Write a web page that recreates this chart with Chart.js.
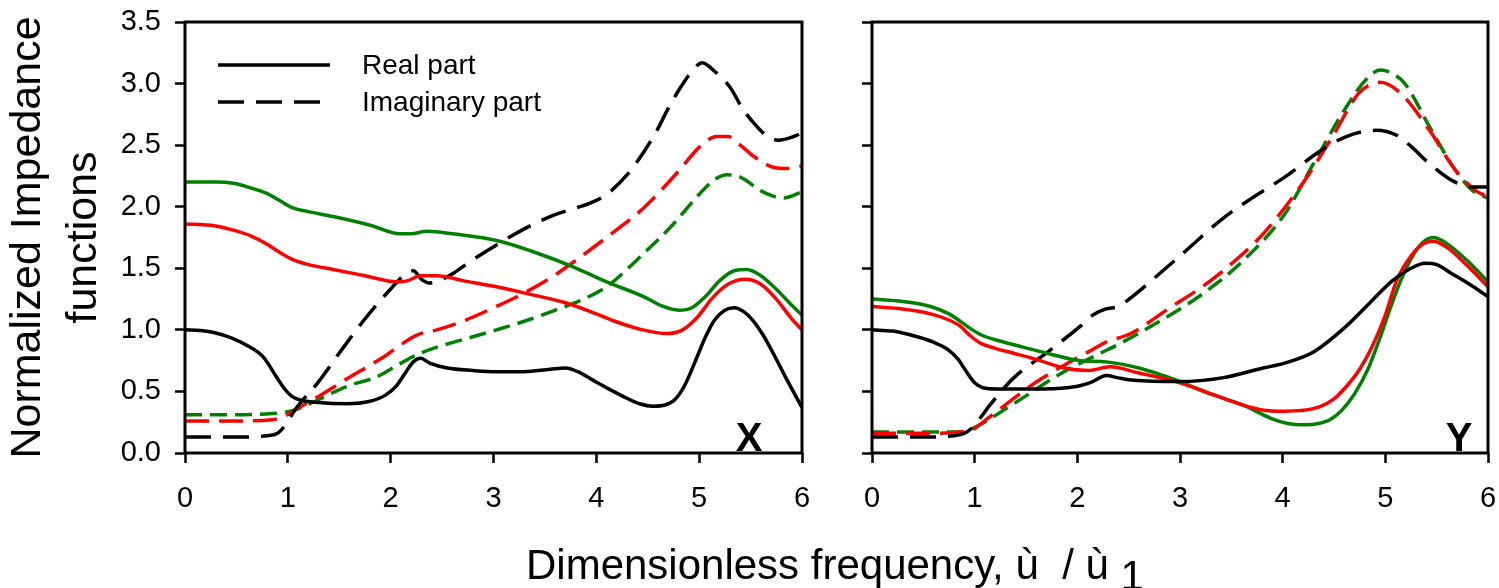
<!DOCTYPE html>
<html><head><meta charset="utf-8">
<script src="https://cdn.jsdelivr.net/npm/chart.js@4.4.1/dist/chart.umd.min.js"></script>
<style>
html,body{margin:0;padding:0;background:#fff;}
body{width:1499px;height:588px;position:relative;overflow:hidden;font-family:"Liberation Sans",Arial,sans-serif;}
#cx{position:absolute;left:0;top:0;}
#cy{position:absolute;left:830px;top:0;}
#xtitle{position:absolute;left:526px;top:544px;font-size:42px;line-height:42px;white-space:pre;color:#000;}
#xtitle span{position:relative;top:11px;}
</style></head><body>
<canvas id="cx" width="830" height="588" style="width:830px;height:588px"></canvas>
<canvas id="cy" width="669" height="588" style="width:669px;height:588px"></canvas>
<div id="xtitle">Dimensionless frequency, ù  / ù <span>1</span></div>
<script>
const FREQ_TICKS = [0, 1, 2, 3, 4, 5, 6];
const IMP_TICKS = [0, 0.5, 1, 1.5, 2, 2.5, 3, 3.5];
const SERIES_NAMES = ['Real part', 'Imaginary part'];
const PANEL_LABELS = ['X', 'Y'];
const Y_TITLE = ['Normalized Impedance', 'functions'];

// Panel X : [frequency, value]
const xRealBlack = [[0,1.00],[0.15,0.995],[0.3,0.975],[0.45,0.935],[0.6,0.875],[0.76,0.78],[0.88,0.63],[0.96,0.53],[1.04,0.46],[1.12,0.43],[1.3,0.41],[1.57,0.40],[1.8,0.42],[1.95,0.47],[2.06,0.55],[2.15,0.66],[2.22,0.74],[2.29,0.77],[2.38,0.73],[2.55,0.69],[2.8,0.67],[3.03,0.66],[3.3,0.66],[3.55,0.68],[3.7,0.69],[3.82,0.66],[3.95,0.60],[4.1,0.53],[4.26,0.46],[4.42,0.40],[4.55,0.38],[4.67,0.39],[4.76,0.43],[4.86,0.55],[4.96,0.74],[5.06,0.94],[5.15,1.08],[5.25,1.16],[5.34,1.18],[5.43,1.15],[5.52,1.08],[5.62,0.96],[5.72,0.81],[5.85,0.60],[6.0,0.37]];
const xRealRed = [[0,1.86],[0.25,1.85],[0.47,1.81],[0.65,1.76],[0.79,1.70],[0.92,1.63],[1.05,1.57],[1.2,1.53],[1.44,1.49],[1.75,1.44],[2.06,1.39],[2.17,1.40],[2.29,1.44],[2.45,1.44],[2.7,1.40],[3.03,1.35],[3.4,1.28],[3.7,1.22],[4.0,1.13],[4.18,1.07],[4.45,1.00],[4.68,0.97],[4.84,1.00],[4.98,1.10],[5.13,1.26],[5.28,1.37],[5.45,1.41],[5.6,1.37],[5.75,1.25],[5.9,1.09],[6.0,1.00]];
const xRealGreen = [[0,2.20],[0.3,2.20],[0.47,2.19],[0.65,2.15],[0.79,2.11],[0.92,2.05],[1.05,1.99],[1.2,1.96],[1.44,1.92],[1.8,1.85],[2.09,1.78],[2.2,1.78],[2.35,1.80],[2.6,1.78],[3.06,1.72],[3.4,1.63],[3.78,1.51],[4.1,1.39],[4.46,1.27],[4.65,1.19],[4.8,1.16],[4.93,1.18],[5.06,1.27],[5.2,1.40],[5.34,1.48],[5.46,1.49],[5.6,1.44],[5.75,1.33],[5.9,1.20],[6.0,1.12]];
const xImagBlack = [[0,0.13],[0.5,0.13],[0.8,0.14],[0.9,0.16],[0.97,0.22],[1.07,0.35],[1.3,0.58],[1.49,0.80],[1.76,1.10],[2.02,1.35],[2.14,1.45],[2.22,1.48],[2.3,1.41],[2.38,1.38],[2.5,1.41],[2.61,1.46],[2.8,1.57],[3.03,1.69],[3.3,1.82],[3.58,1.93],[3.8,1.99],[3.94,2.03],[4.1,2.10],[4.3,2.26],[4.45,2.43],[4.59,2.62],[4.7,2.80],[4.82,2.97],[4.93,3.10],[5.03,3.17],[5.15,3.10],[5.3,2.97],[5.42,2.80],[5.53,2.68],[5.65,2.58],[5.77,2.54],[5.92,2.57],[6.0,2.60]];
const xImagRed = [[0,0.26],[0.5,0.26],[0.85,0.27],[0.97,0.30],[1.07,0.35],[1.3,0.46],[1.57,0.60],[1.95,0.79],[2.1,0.88],[2.26,0.96],[2.45,1.00],[2.7,1.07],[3.03,1.19],[3.3,1.30],[3.57,1.43],[3.81,1.57],[4.13,1.77],[4.46,1.99],[4.78,2.27],[5.01,2.49],[5.17,2.57],[5.28,2.57],[5.4,2.50],[5.53,2.41],[5.72,2.32],[5.85,2.31],[6.0,2.33]];
const xImagGreen = [[0,0.31],[0.5,0.31],[0.85,0.32],[0.97,0.33],[1.07,0.35],[1.29,0.43],[1.57,0.54],[1.87,0.62],[2.1,0.73],[2.26,0.80],[2.45,0.86],[2.7,0.92],[3.03,1.00],[3.3,1.07],[3.6,1.16],[3.85,1.24],[4.1,1.35],[4.46,1.62],[4.75,1.86],[5.01,2.11],[5.15,2.22],[5.27,2.26],[5.4,2.24],[5.62,2.12],[5.82,2.07],[6.0,2.12]];

// Panel Y : [frequency, value]
const yRealBlack = [[0,1.00],[0.2,0.99],[0.37,0.96],[0.6,0.90],[0.74,0.84],[0.84,0.76],[0.92,0.66],[1.0,0.57],[1.08,0.53],[1.22,0.52],[1.67,0.52],[1.99,0.54],[2.15,0.58],[2.28,0.63],[2.4,0.61],[2.55,0.59],[3.0,0.58],[3.41,0.61],[3.81,0.69],[4.02,0.73],[4.3,0.82],[4.62,1.03],[4.85,1.22],[5.07,1.40],[5.25,1.50],[5.39,1.54],[5.5,1.53],[5.64,1.46],[5.82,1.37],[6.0,1.27]];
const yRealRed = [[0,1.19],[0.3,1.17],[0.57,1.13],[0.75,1.08],[0.86,1.03],[0.96,0.95],[1.06,0.89],[1.2,0.85],[1.38,0.81],[1.6,0.76],[1.87,0.69],[2.11,0.67],[2.32,0.70],[2.6,0.65],[3.0,0.57],[3.3,0.48],[3.61,0.39],[3.8,0.35],[4.02,0.34],[4.3,0.36],[4.5,0.44],[4.62,0.54],[4.75,0.68],[4.87,0.86],[5.0,1.12],[5.11,1.40],[5.25,1.60],[5.37,1.70],[5.47,1.72],[5.6,1.67],[5.8,1.52],[6.0,1.35]];
const yRealGreen = [[0,1.25],[0.3,1.23],[0.57,1.19],[0.75,1.13],[0.86,1.07],[0.96,1.01],[1.06,0.96],[1.2,0.92],[1.47,0.86],[1.75,0.80],[2.03,0.75],[2.28,0.74],[2.6,0.69],[3.0,0.58],[3.3,0.48],[3.61,0.39],[3.89,0.28],[4.05,0.24],[4.22,0.23],[4.35,0.24],[4.46,0.27],[4.58,0.35],[4.7,0.48],[4.83,0.68],[4.95,0.94],[5.05,1.18],[5.15,1.40],[5.28,1.62],[5.38,1.72],[5.47,1.75],[5.6,1.70],[5.8,1.56],[6.0,1.39]];
const yImagBlack = [[0,0.13],[0.5,0.13],[0.8,0.14],[0.9,0.16],[0.98,0.21],[1.06,0.29],[1.14,0.38],[1.38,0.61],[1.71,0.82],[2.03,1.03],[2.15,1.12],[2.28,1.17],[2.4,1.19],[2.52,1.26],[2.75,1.42],[3.0,1.60],[3.41,1.90],[3.7,2.07],[4.02,2.24],[4.38,2.46],[4.62,2.57],[4.91,2.62],[5.11,2.58],[5.25,2.49],[5.43,2.35],[5.68,2.20],[5.88,2.16],[6.0,2.16]];
const yImagRed = [[0,0.16],[0.5,0.16],[0.85,0.17],[0.98,0.19],[1.14,0.29],[1.59,0.57],[1.95,0.75],[2.15,0.84],[2.28,0.90],[2.52,0.97],[2.92,1.19],[3.2,1.34],[3.45,1.50],[3.81,1.78],[4.22,2.22],[4.5,2.59],[4.74,2.92],[4.95,3.01],[5.15,2.92],[5.43,2.62],[5.68,2.30],[5.88,2.13],[6.0,2.08]];
const yImagGreen = [[0,0.17],[0.5,0.17],[0.85,0.17],[0.98,0.20],[1.38,0.40],[1.87,0.66],[2.2,0.80],[2.44,0.90],[3.0,1.17],[3.25,1.31],[3.6,1.55],[4.02,1.94],[4.3,2.35],[4.62,2.81],[4.82,3.04],[4.95,3.11],[5.05,3.09],[5.19,3.00],[5.43,2.65],[5.68,2.30],[5.85,2.13],[6.0,2.07]];

const FONT = '"Liberation Sans", Arial, sans-serif';
const STYLE = {
  black: {color: '#000000', dash: [26, 12]},
  red:   {color: '#ff0000', dash: [24, 10]},
  green: {color: '#008000', dash: [17, 8]}
};

function ds(points, style, dashed) {
  return {
    data: points.map(p => ({x: p[0], y: p[1]})),
    borderColor: style.color,
    borderWidth: 3.5,
    borderDash: dashed ? style.dash : [],
    pointRadius: 0,
    fill: false,
    cubicInterpolationMode: 'monotone',
    tension: 0
  };
}

const framePlugin = {
  id: 'frame',
  afterDatasetsDraw(chart, args, opts) {
    const {ctx, chartArea: a} = chart;
    ctx.save();
    ctx.strokeStyle = '#000';
    ctx.lineWidth = 3;
    ctx.setLineDash([]);
    ctx.strokeRect(a.left, a.top, a.right - a.left, a.bottom - a.top);
    ctx.fillStyle = '#000';
    ctx.font = 'bold 40px ' + FONT;
    ctx.textAlign = 'center';
    ctx.textBaseline = 'alphabetic';
    ctx.fillText(opts.label, a.right - opts.labelOffset, a.bottom - 2);
    if (opts.legend) {
      const lx = a.left + 33, ty1 = a.top + 43, ty2 = a.top + 80;
      ctx.lineWidth = 3.5;
      ctx.beginPath(); ctx.moveTo(lx, ty1); ctx.lineTo(lx + 112, ty1); ctx.stroke();
      ctx.setLineDash(STYLE.black.dash);
      ctx.beginPath(); ctx.moveTo(lx, ty2); ctx.lineTo(lx + 104, ty2); ctx.stroke();
      ctx.setLineDash([]);
      ctx.font = '28px ' + FONT;
      ctx.textAlign = 'left';
      ctx.textBaseline = 'middle';
      ctx.fillText(SERIES_NAMES[0], a.left + 177, ty1 + 1);
      ctx.fillText(SERIES_NAMES[1], a.left + 177, ty2 + 1);
    }
    ctx.restore();
  }
};

function noPad(s) { s.paddingTop = 0; s.paddingBottom = 0; s.paddingLeft = 0; s.paddingRight = 0; }

function makePanel(canvasId, sets, label, isLeft) {
  const gridOpts = {display: true, drawOnChartArea: false, drawTicks: true, tickLength: 10, tickWidth: 2.5, tickColor: '#000'};
  return new Chart(document.getElementById(canvasId), {
    type: 'line',
    data: {datasets: sets},
    plugins: [framePlugin],
    options: {
      responsive: false,
      devicePixelRatio: 1,
      animation: false,
      layout: {padding: {left: 0, top: 22, right: isLeft ? 28 : 11, bottom: 65}},
      plugins: {
        legend: {display: false},
        tooltip: {enabled: false},
        frame: {label: label, labelOffset: isLeft ? 53 : 29, legend: isLeft}
      },
      scales: {
        x: {
          type: 'linear', min: 0, max: 6,
          afterBuildTicks: s => { s.ticks = FREQ_TICKS.map(v => ({value: v})); },
          ticks: {color: '#000', font: {size: 29, family: FONT}, padding: 19, maxRotation: 0, autoSkip: false, callback: v => String(v)},
          grid: gridOpts,
          border: {display: false},
          afterFit: s => { s.height = 70; noPad(s); }
        },
        y: {
          type: 'linear', min: 0, max: 3.5,
          afterBuildTicks: s => { s.ticks = IMP_TICKS.map(v => ({value: v})); },
          ticks: {display: isLeft, color: '#000', font: {size: 29, family: FONT}, padding: 14, callback: v => Number(v).toFixed(1)},
          grid: gridOpts,
          border: {display: false},
          title: {display: isLeft, text: Y_TITLE, color: '#000', font: {size: 43, family: FONT, lineHeight: 1.3}, padding: {top: 0, bottom: 0}},
          afterFit: s => { s.width = isLeft ? 185 : 42; noPad(s); }
        }
      }
    }
  });
}

makePanel('cx', [
  ds(xRealBlack, STYLE.black, false),
  ds(xRealRed, STYLE.red, false),
  ds(xRealGreen, STYLE.green, false),
  ds(xImagBlack, STYLE.black, true),
  ds(xImagRed, STYLE.red, true),
  ds(xImagGreen, STYLE.green, true)
], PANEL_LABELS[0], true);

makePanel('cy', [
  ds(yRealBlack, STYLE.black, false),
  ds(yRealRed, STYLE.red, false),
  ds(yRealGreen, STYLE.green, false),
  ds(yImagBlack, STYLE.black, true),
  ds(yImagRed, STYLE.red, true),
  ds(yImagGreen, STYLE.green, true)
], PANEL_LABELS[1], false);
</script></body></html>
